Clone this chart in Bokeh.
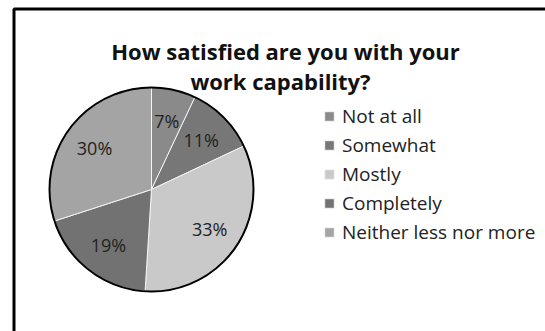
import math
from bokeh.plotting import figure
from bokeh.models import Range1d, BoxAnnotation, Label, Legend, LegendItem, ColumnDataSource
from bokeh.core.properties import value
from bokeh.embed import file_html
from bokeh.resources import INLINE

title_lines = ["How satisfied are you with your", "work capability?"]
categories = ["Not at all", "Somewhat", "Mostly", "Completely", "Neither less nor more"]
percents = [7, 11, 33, 19, 30]
colors = ["#8a8a8a", "#777777", "#c9c9c9", "#727272", "#a4a4a4"]

W, H = 545, 331
CX, CY, R = 151, 142, 102
FONT = "Open Sans"

total = sum(percents)
starts, ends, lx, ly, labels = [], [], [], [], []
acc = 0.0
for v in percents:
    a0 = math.pi / 2 - 2 * math.pi * acc / total
    a1 = math.pi / 2 - 2 * math.pi * (acc + v) / total
    mid = (a0 + a1) / 2
    starts.append(a0)
    ends.append(a1)
    lx.append(CX + 0.69 * R * math.cos(mid))
    ly.append(CY + 0.69 * R * math.sin(mid))
    labels.append(f"{v}%")
    acc += v

src = ColumnDataSource(dict(start=starts, end=ends, color=colors, cat=categories,
                            lx=lx, ly=ly, label=labels))

p = figure(width=W, height=H, output_backend="svg", toolbar_location=None,
           x_range=Range1d(0, W), y_range=Range1d(0, H), min_border=0)
p.axis.visible = False
p.grid.visible = False
p.outline_line_color = None
p.background_fill_color = "white"

# frame border (left and top edges visible, right/bottom run off the page)
p.add_layout(BoxAnnotation(left=13.5, right=W + 20, top=322.5, bottom=-20,
                           fill_alpha=0, line_color="black", line_alpha=1.0, line_width=3))

wr = p.wedge(x=CX, y=CY, radius=R, start_angle="start", end_angle="end", direction="clock",
             fill_color="color", line_color="#f4f4f4", line_width=1, source=src)
p.circle(x=CX, y=CY, radius=R, fill_alpha=0, line_color="black", line_width=2)

p.text(x="lx", y="ly", text="label", source=src, text_align="center", text_baseline="middle",
       text_font_size="18px", text_color="#222222", text_font=value(FONT))

p.add_layout(Label(x=285, y=281, x_units="screen", y_units="screen", text=title_lines[0],
                   text_align="center", text_baseline="alphabetic", text_font_size="22px",
                   text_font_style="bold", text_font=FONT, text_color="#111111"))
p.add_layout(Label(x=280, y=251, x_units="screen", y_units="screen", text=title_lines[1],
                   text_align="center", text_baseline="alphabetic", text_font_size="22px",
                   text_font_style="bold", text_font=FONT, text_color="#111111"))

items = [LegendItem(label=c, renderers=[wr], index=i) for i, c in enumerate(categories)]
leg = Legend(items=items, location=(323, 86), padding=0, margin=0, spacing=3,
             glyph_width=12, glyph_height=12, label_height=20, label_standoff=7,
             label_text_font_size="19px", label_text_font=FONT, label_text_color="#222222",
             border_line_color=None, background_fill_alpha=0)
p.add_layout(leg)

open("out.html", "w").write(file_html(p, INLINE))
